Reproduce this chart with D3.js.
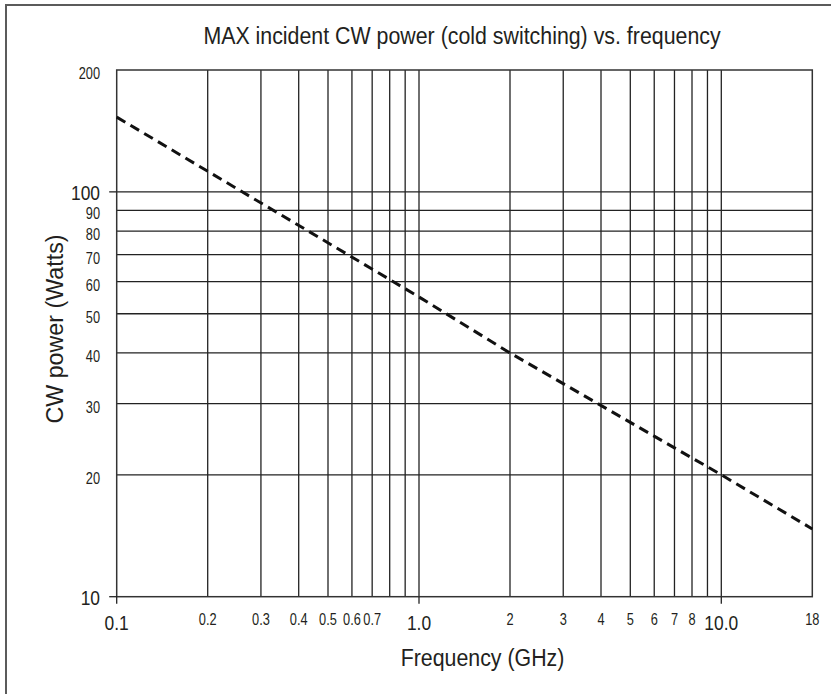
<!DOCTYPE html>
<html>
<head>
<meta charset="utf-8">
<script src="https://cdn.jsdelivr.net/npm/d3@7"></script>
<style>
body { margin: 0; background: #fff; }
text { font-family: "Liberation Sans", Arial, sans-serif; fill: #231f20; }
</style>
</head>
<body>
<script>
// Your code here
const w = 831;
const h = 694;
const plotLeft = 116.7, plotRight = 812.3, plotTop = 70, plotBottom = 596.7;
// fake a condensed face by squeezing horizontally
const squeezeSmall = 0.8;
const squeezeBig = 0.87;
const squeezeTitle = 0.89;

// data
const lineFreq = [0.1, 1, 2, 10, 20];
const linePower = [153, 55, 40, 20, 14.7];

const xGrid = [0.2, 0.3, 0.4, 0.5, 0.6, 0.7, 0.8, 0.9, 1, 2, 3, 4, 5, 6, 7, 8, 9, 10];
const yGrid = [20, 30, 40, 50, 60, 70, 80, 90, 100];

const xTickValues = [0.1, 0.2, 0.3, 0.4, 0.5, 0.6, 0.7, 1, 2, 3, 4, 5, 6, 7, 8, 10, 20];
const xTickLabels = ["0.1", "0.2", "0.3", "0.4", "0.5", "0.6", "0.7", "1.0", "2", "3", "4", "5", "6", "7", "8", "10.0", "18"];
const xBig = ["0.1", "1.0", "10.0"];

const yTickValues = [10, 20, 30, 40, 50, 60, 70, 80, 90, 100, 200];
const yTickLabels = ["10", "20", "30", "40", "50", "60", "70", "80", "90", "100", "200"];
const yBig = ["10", "100"];

let svg = d3.select("body").append("svg").attr("width", w).attr("height", h);

let x = d3.scaleLog().domain([0.1, 20]).range([plotLeft, plotRight]);
let y = d3.scaleLog().domain([10, 200]).range([plotBottom, plotTop]);

// outer frame
svg.append("rect").attr("x", 6).attr("y", 5).attr("width", 840).attr("height", 720)
    .attr("fill", "none").attr("stroke", "#5b5b5b").attr("stroke-width", 2);

// grid
svg.selectAll("line.vgrid").data(xGrid).enter().append("line").attr("class", "vgrid")
    .attr("x1", (d) => x(d)).attr("x2", (d) => x(d))
    .attr("y1", plotTop).attr("y2", plotBottom)
    .attr("stroke", "#222").attr("stroke-width", 1.3);

svg.selectAll("line.hgrid").data(yGrid).enter().append("line").attr("class", "hgrid")
    .attr("x1", plotLeft).attr("x2", plotRight)
    .attr("y1", (d) => y(d)).attr("y2", (d) => y(d))
    .attr("stroke", "#222").attr("stroke-width", 1.3);

svg.append("rect").attr("x", plotLeft).attr("y", plotTop).attr("width", plotRight - plotLeft).attr("height", plotBottom - plotTop)
    .attr("fill", "none").attr("stroke", "#333").attr("stroke-width", 1.5);

// little tick marks sticking out
[0.1, 1, 10].forEach((d) => {
    svg.append("line").attr("x1", x(d)).attr("x2", x(d)).attr("y1", plotBottom).attr("y2", plotBottom + 7)
        .attr("stroke", "#222").attr("stroke-width", 1.3);
});
[10, 100].forEach((d) => {
    svg.append("line").attr("x1", plotLeft - 7.5).attr("x2", plotLeft).attr("y1", y(d)).attr("y2", y(d))
        .attr("stroke", "#222").attr("stroke-width", 1.3);
});

// tick labels
svg.selectAll("text.xlab").data(xTickValues).enter().append("text").attr("class", "xlab")
    .attr("transform", (d, i) => xBig.includes(xTickLabels[i])
        ? `translate(${x(d)}, 629.5) scale(${squeezeBig},1)`
        : `translate(${x(d)}, 625) scale(${squeezeSmall},1)`)
    .attr("text-anchor", "middle")
    .attr("font-size", (d, i) => xBig.includes(xTickLabels[i]) ? "20px" : "16px")
    .text((d, i) => xTickLabels[i]);

svg.selectAll("text.ylab").data(yTickValues).enter().append("text").attr("class", "ylab")
    .attr("transform", (d, i) => yBig.includes(yTickLabels[i])
        ? `translate(100, ${y(d) + 8}) scale(${squeezeBig},1)`
        : `translate(100, ${y(d) + 9}) scale(${squeezeSmall},1)`)
    .attr("text-anchor", "end")
    .attr("font-size", (d, i) => yBig.includes(yTickLabels[i]) ? "20px" : "16px")
    .text((d, i) => yTickLabels[i]);

// the dashed curve
let pts = lineFreq.map((f, i) => [f, linePower[i]]);
svg.append("path").datum(pts)
    .attr("d", d3.line().x((d) => x(d[0])).y((d) => y(d[1])))
    .attr("fill", "none").attr("stroke", "#111").attr("stroke-width", 3)
    .attr("stroke-dasharray", "10,6");

// titles
svg.append("text").attr("transform", `translate(462, 44) scale(${squeezeTitle},1)`).attr("text-anchor", "middle")
    .attr("font-size", "24px").text("MAX incident CW power (cold switching) vs. frequency");
svg.append("text").attr("transform", `translate(482.5, 666) scale(${squeezeTitle},1)`).attr("text-anchor", "middle")
    .attr("font-size", "24px").text("Frequency (GHz)");
svg.append("text").attr("transform", `translate(63, 329) rotate(-90) scale(0.97,1)`).attr("text-anchor", "middle")
    .attr("font-size", "24px").text("CW power (Watts)");
</script>
</body>
</html>
